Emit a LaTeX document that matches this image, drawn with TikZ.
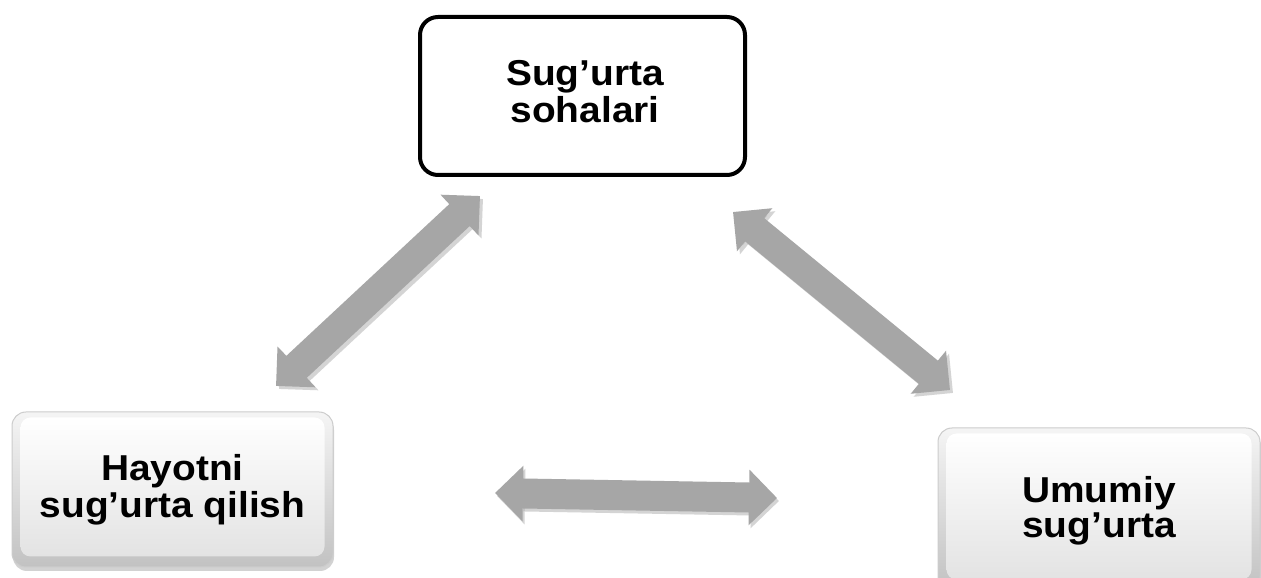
\documentclass[tikz,border=0pt]{standalone}
\usepackage{fontspec}
\setmainfont{Liberation Sans}
\usetikzlibrary{arrows.meta,shadows,calc}
\definecolor{arrowgray}{HTML}{A6A6A6}
\definecolor{shadowgray}{HTML}{B8B8B8}
\newcommand{\wtxt}[1]{\scalebox{1.08}[1]{#1}}
\begin{document}
\begin{tikzpicture}[x=1pt,y=1pt,
  topbox/.style={draw=black, line width=4pt, rounded corners=18pt, fill=white,
    minimum width=325pt, minimum height=158pt, inner sep=0pt},
  bevelbox/.style={draw=gray!40, line width=1pt, rounded corners=14pt,
    top color=gray!8, bottom color=gray!48,
    minimum width=321pt, minimum height=155pt, inner sep=0pt,
    drop shadow={shadow xshift=1pt, shadow yshift=-4pt, opacity=0.35}},
  innerface/.style={rounded corners=10pt, top color=white, bottom color=gray!22},
  txt/.style={font=\bfseries\fontsize{36}{38}\selectfont, anchor=base, inner sep=0pt},
  dblarrow/.style={draw=arrowgray, line width=30pt,
    {Triangle[length=28pt,width=54pt]}-{Triangle[length=28pt,width=54pt]}},
  arrowshadow/.style={draw=shadowgray, opacity=0.6, line width=30pt,
    {Triangle[length=28pt,width=54pt]}-{Triangle[length=28pt,width=54pt]}}
]
\useasboundingbox (0,0) rectangle (1261,578);
\clip (0,0) rectangle (1261,578);
\fill[white] (0,0) rectangle (1261,578);

% top box
\node[topbox] (top) at (582.5,482) {};
\node[txt] (top1) at (585,492) {\wtxt{Sug’urta}};
\node[txt] (top2) at (585,455) {\wtxt{sohalari}};

% left box
\node[bevelbox] (left) at (172.5,88.5) {};
\path[innerface] ($(left.south west)+(9,11)$) rectangle ($(left.north east)+(-9,-6)$);
\node[txt] (left1) at (172.5,97) {\wtxt{Hayotni}};
\node[txt] (left2) at (172.5,60) {\wtxt{sug’urta qilish}};

% right box
\node[bevelbox, minimum width=322pt, minimum height=162pt] (right) at (1099,69) {};
\path[innerface] ($(right.south west)+(9,11)$) rectangle ($(right.north east)+(-9,-6)$);
\node[txt] (right1) at (1099,75) {\wtxt{Umumiy}};
\node[txt] (right2) at (1099,40) {\wtxt{sug’urta}};

% arrow end points
\coordinate (la) at (276,192);
\coordinate (lb) at (480,382);
\coordinate (ra) at (733,366);
\coordinate (rb) at (950,188);
\coordinate (ha) at (495,85);
\coordinate (hb) at (777,80);

% shadows
\draw[arrowshadow] ($(la)+(3,-3)$) -- ($(lb)+(3,-3)$);
\draw[arrowshadow] ($(ra)+(3,-3)$) -- ($(rb)+(3,-3)$);
\draw[arrowshadow] ($(ha)+(2,-3)$) -- ($(hb)+(2,-3)$);
% arrows
\draw[dblarrow] (la) -- (lb);
\draw[dblarrow] (ra) -- (rb);
\draw[dblarrow] (ha) -- (hb);
\end{tikzpicture}
\end{document}
